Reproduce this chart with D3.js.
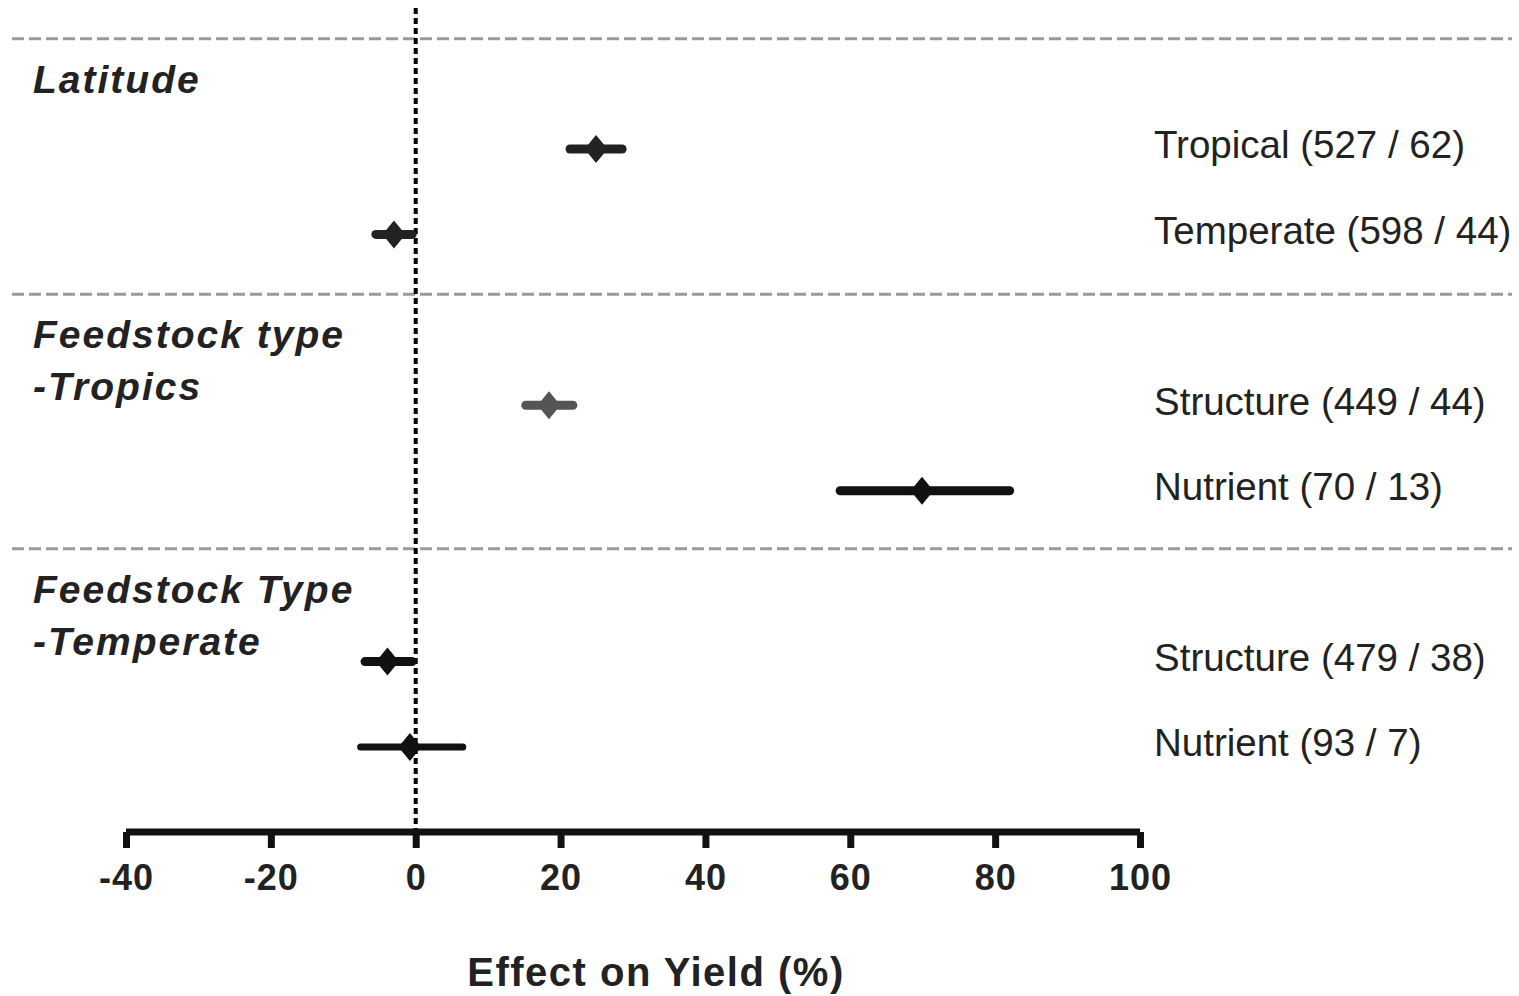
<!DOCTYPE html>
<html><head><meta charset="utf-8">
<script src="https://cdn.jsdelivr.net/npm/d3@7"></script>
<style>body{margin:0;background:#fff}svg{display:block}text{font-family:"Liberation Sans",Arial,sans-serif}</style>
</head><body>
<svg id="c" width="1519" height="996"></svg>
<script>
const labels = ["Tropical (527 / 62)","Temperate (598 / 44)","Structure (449 / 44)","Nutrient (70 / 13)","Structure (479 / 38)","Nutrient (93 / 7)"];
const rowIndex = [0,1,3,4,6,7];
const means = [24.9,-3.0,18.4,69.9,-3.9,-0.8];
const lower = [21.3,-5.5,15.2,58.6,-7.0,-7.6];
const upper = [28.5,-0.5,21.7,82.0,-0.5,6.5];
const markerColors = ["#222","#222","#555","#111","#111","#111"];
const groupTitles = [["Latitude"],["Feedstock type","-Tropics"],["Feedstock Type","-Temperate"]];
const groupStart = [-1.29,1.7,4.68];
const xTicks = [-40,-20,0,20,40,60,80,100];

const svg = d3.select("#c");
const x = d3.scaleLinear().domain([-40,100]).range([126,1140]);
const y = d3.scaleLinear().domain([0,7]).range([149,747]);

// separators
svg.selectAll("line.sep").data(groupStart).join("line")
  .attr("x1",12).attr("x2",1512).attr("y1",d=>y(d)).attr("y2",d=>y(d))
  .attr("stroke","#9a9a9a").attr("stroke-width",3).attr("stroke-dasharray","12,5");

// group titles
groupTitles.forEach((g,gi)=>{
  g.forEach((t,li)=>{
    svg.append("text").attr("x",33).attr("y",y(groupStart[gi])+54+li*52)
      .attr("font-size",39).attr("font-weight","bold").attr("font-style","italic")
      .attr("letter-spacing",2).attr("fill","#222").text(t);
  });
});

// zero line
svg.append("line").attr("x1",x(0)).attr("x2",x(0)).attr("y1",8).attr("y2",832)
  .attr("stroke","#000").attr("stroke-width",4).attr("stroke-dasharray","6,4");

// error bars
svg.selectAll("line.ci").data(means).join("line")
  .attr("x1",(d,i)=>x(lower[i])).attr("x2",(d,i)=>x(upper[i]))
  .attr("y1",(d,i)=>y(rowIndex[i])).attr("y2",(d,i)=>y(rowIndex[i]))
  .attr("stroke",(d,i)=>markerColors[i]).attr("stroke-width",(d,i)=>i===5?7:9)
  .attr("stroke-linecap","round");

// diamonds
svg.selectAll("path.pt").data(means).join("path")
  .attr("d","M0,-14L11.5,0L0,14L-11.5,0Z")
  .attr("transform",(d,i)=>`translate(${x(d)},${y(rowIndex[i])})`)
  .attr("fill",(d,i)=>markerColors[i]);

// right labels
svg.selectAll("text.lab").data(labels).join("text")
  .attr("x",1154).attr("y",(d,i)=>y(rowIndex[i])-4).attr("dy","0.35em")
  .attr("font-size",38.5).attr("fill","#222").text(d=>d);

// x axis
const ax = svg.append("g").attr("transform","translate(0,832)")
  .call(d3.axisBottom(x).tickValues(xTicks).tickSize(16).tickPadding(16).tickFormat(d=>String(d)));
ax.select(".domain").attr("stroke","#111").attr("stroke-width",7).attr("d",`M${x(-40)},0H${x(100)}`);
ax.selectAll(".tick line").attr("stroke","#111").attr("stroke-width",7);
ax.selectAll(".tick text").attr("font-size",36).attr("font-weight","bold").attr("fill","#222")
  .attr("letter-spacing",1).attr("font-family","Liberation Sans, Arial, sans-serif");

svg.append("text").attr("x",656).attr("y",986).attr("text-anchor","middle")
  .attr("font-size",40).attr("font-weight","bold").attr("letter-spacing",1.5).attr("fill","#222").text("Effect on Yield (%)");
</script>
</body></html>
